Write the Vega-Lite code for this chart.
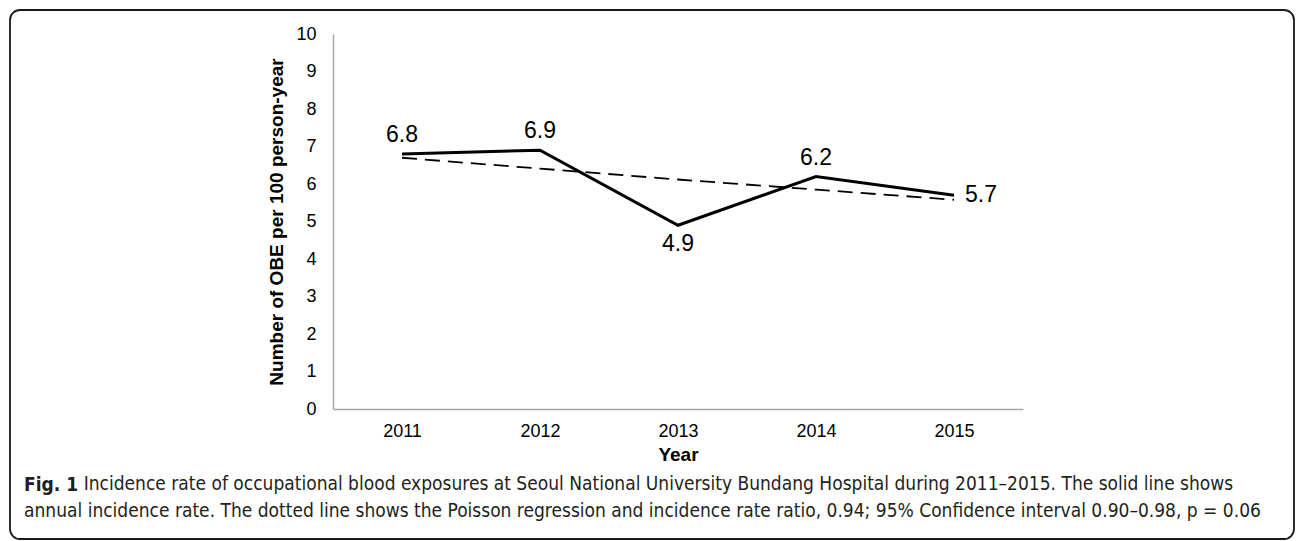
{
  "$schema": "https://vega.github.io/schema/vega-lite/v6.json",
  "width": 1284,
  "height": 529,
  "autosize": {"type": "none"},
  "padding": {"left": 10, "top": 10, "right": 2, "bottom": 2},
  "background": "white",
  "config": {
    "view": {"stroke": "#1a1a1a", "strokeWidth": 1.8, "cornerRadius": 10},
    "font": "Liberation Sans"
  },
  "title": {
    "text": "Fig. 1",
    "subtitle": [
      "\u200b\u00a0\u00a0\u00a0\u00a0\u00a0\u00a0\u00a0\u00a0\u00a0\u00a0\u00a0Incidence rate of occupational blood exposures at Seoul National University Bundang Hospital during 2011–2015. The solid line shows",
      "annual incidence rate. The dotted line shows the Poisson regression and incidence rate ratio, 0.94; 95% Confidence interval 0.90–0.98, p = 0.06"
    ],
    "orient": "bottom",
    "anchor": "start",
    "frame": "group",
    "offset": -63,
    "dx": 14,
    "font": "'DejaVu Sans Condensed', 'Liberation Sans Narrow', sans-serif",
    "fontSize": 19,
    "fontWeight": "bold",
    "color": "#231f20",
    "subtitleFont": "'DejaVu Sans Condensed', 'Liberation Sans Narrow', sans-serif",
    "subtitleFontSize": 19,
    "subtitleFontWeight": "normal",
    "subtitleColor": "#231f20",
    "subtitlePadding": -20,
    "subtitleLineHeight": 27
  },
  "data": {
    "values": [
      {"year": "2011", "rate": 6.8, "trend": 6.70},
      {"year": "2012", "rate": 6.9, "trend": 6.41},
      {"year": "2013", "rate": 4.9, "trend": 6.12},
      {"year": "2014", "rate": 6.2, "trend": 5.85},
      {"year": "2015", "rate": 5.7, "trend": 5.58}
    ]
  },
  "encoding": {
    "x": {
      "field": "year",
      "type": "ordinal",
      "scale": {"type": "point", "padding": 0.5, "range": [323, 1013]},
      "axis": {
        "orient": "bottom",
        "offset": -130,
        "title": "Year",
        "titleFont": "Liberation Sans",
        "titleFontSize": 19,
        "titleFontWeight": "bold",
        "titleColor": "#000000",
        "titlePadding": 5,
        "labelAngle": 0,
        "labelFont": "Liberation Sans",
        "labelFontSize": 18,
        "labelColor": "#000000",
        "labelPadding": 13,
        "ticks": false,
        "tickSize": 0,
        "grid": false,
        "domainColor": "#a6a6a6",
        "domainWidth": 1.5
      }
    },
    "y": {
      "field": "rate",
      "type": "quantitative",
      "scale": {"domain": [0, 10], "range": [399, 24], "nice": false, "zero": true},
      "axis": {
        "orient": "left",
        "offset": -323,
        "values": [0, 1, 2, 3, 4, 5, 6, 7, 8, 9, 10],
        "title": "Number of OBE per 100 person-year",
        "titleFont": "Liberation Sans",
        "titleFontSize": 19,
        "titleFontWeight": "bold",
        "titleColor": "#000000",
        "titlePadding": 9,
        "labelFont": "Liberation Sans",
        "labelFontSize": 18,
        "labelColor": "#000000",
        "labelPadding": 17,
        "ticks": false,
        "tickSize": 0,
        "grid": false,
        "domainColor": "#a6a6a6",
        "domainWidth": 1.5
      }
    }
  },
  "layer": [
    {
      "mark": {"type": "line", "color": "#000000", "strokeWidth": 1.8, "strokeDash": [15, 8]},
      "encoding": {"y": {"field": "trend", "type": "quantitative"}}
    },
    {
      "mark": {"type": "line", "color": "#000000", "strokeWidth": 3, "strokeJoin": "miter"}
    },
    {
      "transform": [{"filter": {"field": "year", "oneOf": ["2011", "2012", "2014"]}}],
      "mark": {"type": "text", "font": "Liberation Sans", "fontSize": 23, "color": "#000000", "baseline": "middle", "dy": -19},
      "encoding": {"text": {"field": "rate", "type": "quantitative", "format": ".1f"}}
    },
    {
      "transform": [{"filter": {"field": "year", "equal": "2013"}}],
      "mark": {"type": "text", "font": "Liberation Sans", "fontSize": 23, "color": "#000000", "baseline": "middle", "dy": 19},
      "encoding": {"text": {"field": "rate", "type": "quantitative", "format": ".1f"}}
    },
    {
      "transform": [{"filter": {"field": "year", "equal": "2015"}}],
      "mark": {"type": "text", "font": "Liberation Sans", "fontSize": 23, "color": "#000000", "baseline": "middle", "align": "left", "dx": 11},
      "encoding": {"text": {"field": "rate", "type": "quantitative", "format": ".1f"}}
    }
  ]
}
